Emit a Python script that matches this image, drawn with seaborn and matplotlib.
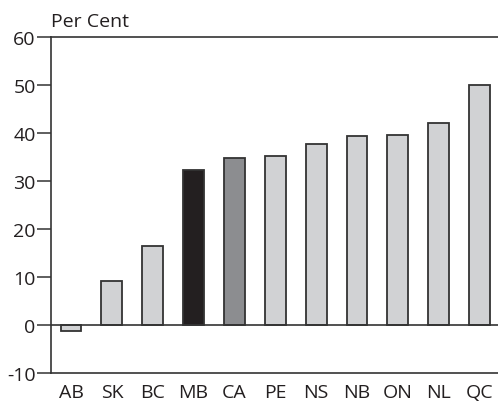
import pandas as pd
import seaborn as sns
from matplotlib import pyplot as plt

# provinces and per cent change
provinces = ["AB", "SK", "BC", "MB", "CA", "PE", "NS", "NB", "ON", "NL", "QC"]
values = [-1.2, 9.2, 16.5, 32.3, 34.7, 35.3, 37.7, 39.4, 39.6, 42.1, 49.9]
highlight = {"MB": "#231f20", "CA": "#8c8d90"}

df = pd.DataFrame({"province": provinces, "value": values})
palette = {p: highlight.get(p, "#d1d2d4") for p in provinces}

sns.set_style("white")
plt.rcParams["font.family"] = ["Liberation Sans Narrow", "Open Sans", "DejaVu Sans"]
plt.rcParams["axes.unicode_minus"] = False

fig = plt.figure(figsize=(4.98, 4.02), dpi=100)
ax = fig.add_axes([0.1024, 0.0697, 0.8976, 0.8358])

sns.barplot(data=df, x="province", y="value", hue="province", palette=palette,
            legend=False, width=0.51, edgecolor="#333333", linewidth=1.3,
            saturation=1, ax=ax)

ax.axhline(0, color="#333333", linewidth=1.2, zorder=1)
ax.set_ylim(-10, 60)
ax.set_xlim(-0.49, 10.45)
ax.set_yticks(range(-10, 61, 10))
ax.set_xlabel("")
ax.set_ylabel("")

for side in ["left", "top", "bottom"]:
    ax.spines[side].set_visible(True)
    ax.spines[side].set_color("#333333")
    ax.spines[side].set_linewidth(1.2)
ax.spines["right"].set_visible(False)

ax.tick_params(axis="y", length=10, width=1.1, color="#333333", pad=1,
               labelsize=14, labelcolor="#231f20", left=True)
ax.tick_params(axis="x", length=0, pad=7, labelsize=14, labelcolor="#231f20")

ax.text(0.0, 1.02, "Per Cent", transform=ax.transAxes, ha="left", va="bottom",
        fontsize=14, color="#231f20")

fig.savefig("out.png", dpi=100)
